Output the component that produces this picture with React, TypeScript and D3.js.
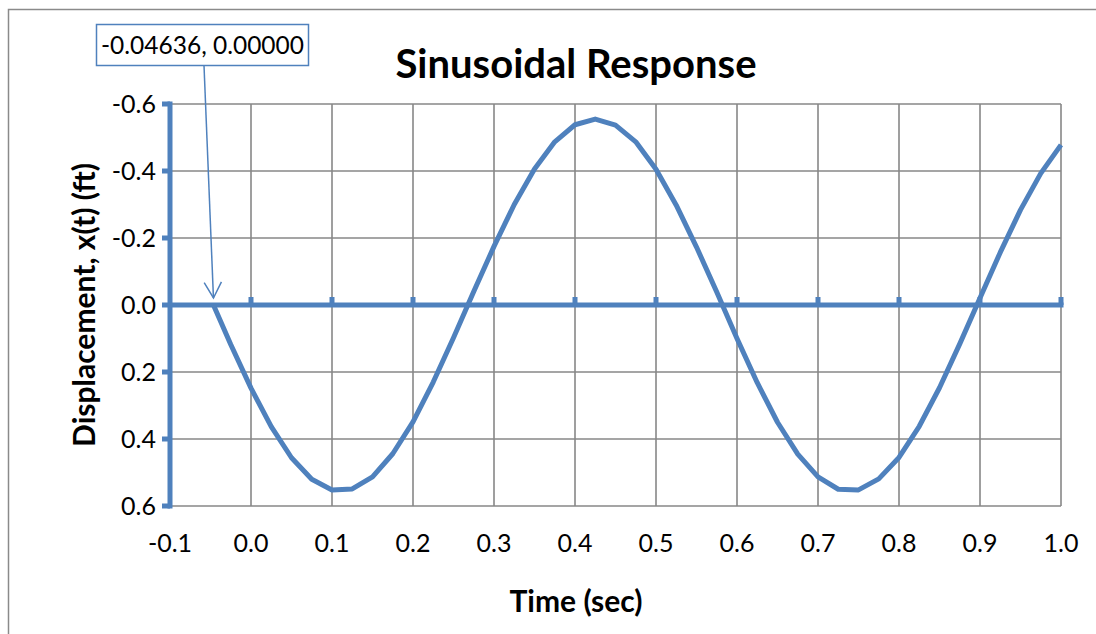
import React, { useEffect, useRef } from 'react';
import * as d3 from 'd3';

// time (sec) and displacement x(t) (ft)
const times = [
  -0.04636, -0.025, 0.0, 0.025, 0.05, 0.075, 0.1, 0.125, 0.15, 0.175, 0.2, 0.225,
  0.25, 0.275, 0.3, 0.325, 0.35, 0.375, 0.4, 0.425, 0.45, 0.475, 0.5, 0.525, 0.55,
  0.575, 0.6, 0.625, 0.65, 0.675, 0.7, 0.725, 0.75, 0.775, 0.8, 0.825, 0.85, 0.875,
  0.9, 0.925, 0.95, 0.975, 1.0
];
const displacement = [
  0.0, 0.118, 0.248, 0.363, 0.456, 0.52, 0.552, 0.549, 0.513, 0.444, 0.349, 0.23,
  0.098, -0.04, -0.175, -0.3, -0.406, -0.487, -0.538, -0.555, -0.537, -0.487, -0.405,
  -0.298, -0.173, -0.039, 0.1, 0.232, 0.35, 0.445, 0.513, 0.55, 0.552, 0.519, 0.455,
  0.362, 0.247, 0.116, -0.021, -0.157, -0.284, -0.393, -0.478
];
const xTicks = [-0.1, 0.0, 0.1, 0.2, 0.3, 0.4, 0.5, 0.6, 0.7, 0.8, 0.9, 1.0];
const yTicks = [-0.6, -0.4, -0.2, 0.0, 0.2, 0.4, 0.6];
const annotation = { t: -0.04636, v: 0.0, label: '-0.04636, 0.00000' };

const W = 1096;
const H = 634;
const BLUE = '#4f81bd';
const GRID = '#878787';
const FONT = 'Lato, "Open Sans", sans-serif';

const SinusoidChart = () => {
  const ref = useRef<SVGSVGElement>(null);

  useEffect(() => {
    const svg = d3.select(ref.current);
    svg.selectAll('*').remove();

    const margin = { top: 104, right: W - 1061, bottom: H - 506, left: 170 };

    const x = d3.scaleLinear().domain([-0.1, 1.0]).range([margin.left, W - margin.right]);
    // the displacement axis is reversed: negative values on top
    const y = d3.scaleLinear().domain([-0.6, 0.6]).range([margin.top, H - margin.bottom]);

    // outer chart frame
    svg.append('rect')
      .attr('x', 8.5).attr('y', 9.5)
      .attr('width', 1200).attr('height', 700)
      .attr('fill', '#fff')
      .attr('stroke', '#8a8a8a').attr('stroke-width', 1.5);

    // === gridlines ===
    const grid = svg.append('g').attr('stroke', GRID).attr('stroke-width', 1.6);
    grid.selectAll('line.v').data(xTicks).join('line')
      .attr('class', 'v')
      .attr('x1', (d) => x(d)).attr('x2', (d) => x(d))
      .attr('y1', y(-0.6)).attr('y2', y(0.6));
    grid.selectAll('line.h').data(yTicks).join('line')
      .attr('class', 'h')
      .attr('x1', x(-0.1)).attr('x2', x(1.0))
      .attr('y1', (d) => y(d)).attr('y2', (d) => y(d));

    // === y axis (blue, ticks to the left) ===
    const yAxis = svg.append('g').attr('stroke', BLUE).attr('stroke-width', 5);
    yAxis.append('line')
      .attr('x1', x(-0.1)).attr('x2', x(-0.1))
      .attr('y1', y(-0.6) - 2.5).attr('y2', y(0.6) + 2.5);
    yAxis.selectAll('line.tick').data(yTicks).join('line')
      .attr('class', 'tick')
      .attr('x1', x(-0.1) - 8).attr('x2', x(-0.1))
      .attr('y1', (d) => y(d)).attr('y2', (d) => y(d));

    // === x axis crossing at zero ===
    const xAxis = svg.append('g').attr('stroke', BLUE).attr('stroke-width', 5);
    xAxis.append('line')
      .attr('x1', x(-0.1)).attr('x2', x(1.0) + 2.5)
      .attr('y1', y(0)).attr('y2', y(0));
    xAxis.selectAll('line.tick').data(xTicks.slice(1)).join('line')
      .attr('class', 'tick')
      .attr('x1', (d) => x(d)).attr('x2', (d) => x(d))
      .attr('y1', y(0) - 8).attr('y2', y(0));

    // === tick labels ===
    svg.append('g').selectAll('text').data(yTicks).join('text')
      .attr('x', x(-0.1) - 14)
      .attr('y', (d) => y(d))
      .attr('dy', '0.35em')
      .attr('text-anchor', 'end')
      .style('font-family', FONT).style('font-size', '25px').attr('fill', '#000')
      .text((d) => d3.format('.1f')(d).replace('−', '-'));

    svg.append('g').selectAll('text').data(xTicks).join('text')
      .attr('x', (d) => x(d))
      .attr('y', 543)
      .attr('dy', '0.35em')
      .attr('text-anchor', 'middle')
      .style('font-family', FONT).style('font-size', '25px').attr('fill', '#000')
      .text((d) => d3.format('.1f')(d).replace('−', '-'));

    // === series line ===
    const points = times.map((t, i) => ({ t, v: displacement[i] }));
    const line = d3.line<{ t: number; v: number }>()
      .x((d) => x(d.t))
      .y((d) => y(d.v));
    svg.append('path')
      .datum(points)
      .attr('fill', 'none')
      .attr('stroke', BLUE)
      .attr('stroke-width', 5)
      .attr('stroke-linejoin', 'round')
      .attr('d', line);

    // === titles ===
    svg.append('text')
      .attr('x', 576).attr('y', 64).attr('dy', '0.35em')
      .attr('text-anchor', 'middle')
      .style('font-family', FONT).style('font-size', '40px').style('font-weight', 'bold')
      .text('Sinusoidal Response');

    svg.append('text')
      .attr('x', 576).attr('y', 601).attr('dy', '0.35em')
      .attr('text-anchor', 'middle')
      .style('font-family', FONT).style('font-size', '30px').style('font-weight', 'bold')
      .text('Time (sec)');

    svg.append('text')
      .attr('transform', `translate(84,${(y(-0.6) + y(0.6)) / 2}) rotate(-90)`)
      .attr('dy', '0.35em')
      .attr('text-anchor', 'middle')
      .style('font-family', FONT).style('font-size', '30px').style('font-weight', 'bold')
      .text('Displacement, x(t) (ft)');

    // === data callout with arrow ===
    const box = { x: 96.5, y: 24.5, w: 212, h: 41 };
    const sx = 204;
    const sy = box.y + box.h;
    const tx = x(annotation.t);
    const ty = y(annotation.v) - 7;
    const ang = Math.atan2(ty - sy, tx - sx);
    const len = 18;
    const spread = 0.5;
    svg.append('line')
      .attr('x1', sx).attr('y1', sy).attr('x2', tx).attr('y2', ty)
      .attr('stroke', BLUE).attr('stroke-width', 1.5);
    svg.append('path')
      .attr('d', `M${tx - len * Math.cos(ang - spread)},${ty - len * Math.sin(ang - spread)}L${tx},${ty}L${tx - len * Math.cos(ang + spread)},${ty - len * Math.sin(ang + spread)}`)
      .attr('fill', 'none')
      .attr('stroke', BLUE).attr('stroke-width', 1.5);
    svg.append('rect')
      .attr('x', box.x).attr('y', box.y).attr('width', box.w).attr('height', box.h)
      .attr('fill', '#fff').attr('stroke', BLUE).attr('stroke-width', 1.5);
    svg.append('text')
      .attr('x', box.x + box.w / 2).attr('y', box.y + box.h / 2).attr('dy', '0.35em')
      .attr('text-anchor', 'middle')
      .style('font-family', FONT).style('font-size', '24.5px')
      .text(annotation.label);
  }, []);

  return <svg ref={ref} width={W} height={H} style={{ position: 'absolute', left: 0, top: 0 }}></svg>;
};

export default function App() {
  return <SinusoidChart />;
}
